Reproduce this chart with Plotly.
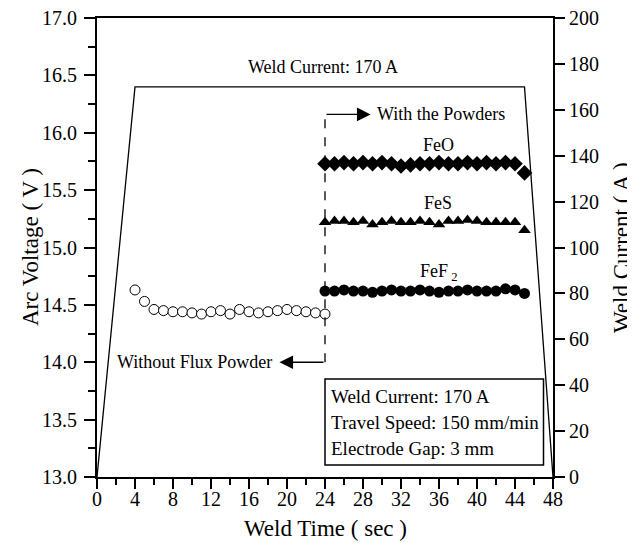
import plotly.graph_objects as go

# ---- data ----
t_noflux = [4, 5, 6, 7, 8, 9, 10, 11, 12, 13, 14, 15, 16, 17, 18, 19, 20, 21, 22, 23, 24]
v_noflux = [14.63, 14.53, 14.46, 14.45, 14.44, 14.44, 14.43, 14.42, 14.44, 14.45, 14.42,
            14.46, 14.44, 14.43, 14.44, 14.45, 14.46, 14.45, 14.44, 14.43, 14.42]

t_powder = [24, 25, 26, 27, 28, 29, 30, 31, 32, 33, 34, 35, 36, 37, 38, 39, 40, 41, 42, 43, 44, 45]
v_feo = [15.73, 15.73, 15.74, 15.73, 15.74, 15.73, 15.74, 15.73, 15.71, 15.72, 15.73,
         15.73, 15.74, 15.73, 15.73, 15.74, 15.73, 15.74, 15.73, 15.74, 15.73, 15.65]
v_fes = [15.22, 15.23, 15.23, 15.22, 15.23, 15.20, 15.22, 15.23, 15.22, 15.22, 15.23,
         15.22, 15.20, 15.23, 15.23, 15.24, 15.23, 15.22, 15.22, 15.22, 15.22, 15.15]
v_fef2 = [14.62, 14.62, 14.63, 14.62, 14.62, 14.61, 14.62, 14.63, 14.62, 14.62, 14.63,
          14.62, 14.61, 14.62, 14.62, 14.63, 14.62, 14.62, 14.62, 14.64, 14.63, 14.60]

t_current = [0, 4, 45, 48]
i_current = [0, 170, 170, 0]

x_ticks = list(range(0, 49, 4))
y_ticks = [13.0, 13.5, 14.0, 14.5, 15.0, 15.5, 16.0, 16.5, 17.0]
y2_ticks = list(range(0, 201, 20))

FONT = "Liberation Serif, Times New Roman, serif"

fig = go.Figure()

fig.add_trace(go.Scatter(x=t_current, y=i_current, yaxis="y2", mode="lines",
                         line=dict(color="black", width=1.3), showlegend=False))

fig.add_trace(go.Scatter(x=t_noflux, y=v_noflux, mode="markers",
                         marker=dict(symbol="circle", size=10, color="white",
                                     line=dict(color="black", width=1)), showlegend=False))
fig.add_trace(go.Scatter(x=t_powder, y=v_feo, mode="markers",
                         marker=dict(symbol="diamond", size=12, color="black"), showlegend=False))
fig.add_trace(go.Scatter(x=t_powder, y=v_fes, mode="markers",
                         marker=dict(symbol="triangle-up", size=11, color="black"), showlegend=False))
fig.add_trace(go.Scatter(x=t_powder, y=v_fef2, mode="markers",
                         marker=dict(symbol="circle", size=11, color="black"), showlegend=False))

ann_font = dict(family=FONT, size=18, color="black")
box_font = dict(family=FONT, size=19, color="black")
title_font = dict(family=FONT, size=23, color="black")
tick_font = dict(family=FONT, size=20, color="black")

annotations = [
    dict(x=23.8, y=16.57, text="Weld Current: 170 A", showarrow=False, font=ann_font),
    dict(x=35.9, y=15.89, text="FeO", showarrow=False, font=ann_font),
    dict(x=35.9, y=15.39, text="FeS", showarrow=False, font=ann_font),
    dict(x=35.9, y=14.78, text="FeF<sub> 2</sub>", showarrow=False, font=ann_font),
    dict(x=29.3, y=16.16, text="With the Powders", showarrow=False, xanchor="left", font=ann_font),
    dict(x=18.6, y=14.0, text="Without Flux Powder", showarrow=False, xanchor="right", font=ann_font),
    # arrows
    dict(x=28.8, y=16.16, ax=24, ay=16.16, axref="x", ayref="y", text="", showarrow=True,
         arrowhead=2, arrowsize=2.1, arrowwidth=1.3, arrowcolor="black"),
    dict(x=19.2, y=14.0, ax=24, ay=14.0, axref="x", ayref="y", text="", showarrow=True,
         arrowhead=2, arrowsize=2.1, arrowwidth=1.3, arrowcolor="black"),
    # info box text
    dict(x=24.4, y=13.70, text="Weld Current: 170 A", showarrow=False, xanchor="left", font=box_font),
    dict(x=24.4, y=13.475, text="Travel Speed: 150 mm/min", showarrow=False, xanchor="left", font=box_font),
    dict(x=24.4, y=13.25, text="Electrode Gap: 3 mm", showarrow=False, xanchor="left", font=box_font),
    # axis titles
    dict(x=0.5, y=0, xref="paper", yref="paper", yanchor="top", yshift=-37,
         text="Weld Time ( sec )", showarrow=False, font=title_font),
    dict(x=0, y=0.5, xref="paper", yref="paper", xanchor="right", xshift=-52, textangle=-90,
         text="Arc Voltage ( V )", showarrow=False, font=title_font),
    dict(x=1, y=0.5, xref="paper", yref="paper", xanchor="left", xshift=54, textangle=-90,
         text="Weld Current ( A )", showarrow=False, font=title_font),
]

shapes = [
    dict(type="line", x0=24, x1=24, y0=14.0, y1=16.16, xref="x", yref="y",
         line=dict(color="black", width=1.3, dash="dash")),
    dict(type="rect", x0=24, x1=47, y0=13.105, y1=13.855, xref="x", yref="y",
         line=dict(color="black", width=1.5), fillcolor="rgba(0,0,0,0)"),
]

# the page body adds an 8px offset, so the figure is 8px smaller and margins shifted
fig.update_layout(
    width=627, height=535,
    margin=dict(l=89, r=82, t=10, b=66, autoexpand=False),
    paper_bgcolor="white", plot_bgcolor="white",
    font=dict(family=FONT, color="black"),
    annotations=annotations, shapes=shapes,
    xaxis=dict(range=[0, 48], tickvals=x_ticks, showgrid=False, zeroline=False, automargin=False,
               showline=True, linecolor="black", linewidth=2, mirror=True,
               ticks="outside", ticklen=10, tickwidth=2, tickcolor="black",
               ticklabelstandoff=-7, ticklabeloverflow="allow",
               minor=dict(dtick=2, ticks="outside", ticklen=6, tickwidth=2, tickcolor="black"),
               tickfont=tick_font),
    yaxis=dict(range=[13, 17], tickvals=y_ticks, tickformat=".1f", showgrid=False, zeroline=False,
               automargin=False, ticklabeloverflow="allow", ticklabelstandoff=3,
               showline=True, linecolor="black", linewidth=2,
               ticks="outside", ticklen=11, tickwidth=2, tickcolor="black",
               minor=dict(dtick=0.25, ticks="outside", ticklen=7, tickwidth=2, tickcolor="black"),
               tickfont=tick_font),
    yaxis2=dict(range=[0, 200], tickvals=y2_ticks, overlaying="y", side="right", automargin=False,
                ticklabeloverflow="allow",
                showgrid=False, zeroline=False, showline=True, linecolor="black", linewidth=2,
                ticks="outside", ticklen=10, tickwidth=2, tickcolor="black",
                tickfont=tick_font),
)

fig.write_html("out.html")
